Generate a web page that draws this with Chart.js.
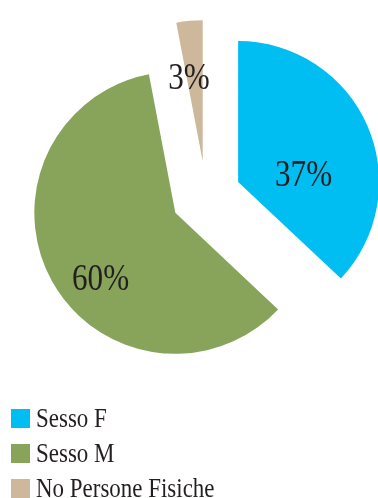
<!DOCTYPE html>
<html>
<head>
<meta charset="utf-8">
<script src="https://cdn.jsdelivr.net/npm/chart.js@4/dist/chart.umd.min.js"></script>
<style>
  body { margin: 0; background: #fff; }
  #wrap { position: relative; width: 378px; height: 498px; overflow: hidden; }
  #pie { position: absolute; left: 0; top: 0; }
  .item { position: absolute; left: 11px; width: 360px; height: 35px; }
  .box { position: absolute; left: 0; top: 0; width: 19px; height: 19px; }
  .txt {
    position: absolute; left: 25px; top: -3.6px;
    font: 27px "Liberation Serif", "Times New Roman", serif; line-height: 1;
    color: #231f20; white-space: nowrap;
    transform: scaleX(0.85); transform-origin: left;
  }
</style>
</head>
<body>
<div id="wrap">
  <canvas id="pie" width="378" height="498"></canvas>
  <div id="legend"></div>
</div>
<script>
const categories = ['Sesso F', 'Sesso M', 'No Persone Fisiche'];
const shares = [37, 60, 3];

const colors = ['#00BEF2', '#88A45A', '#CDB89B'];

// where each % label sits: angle shift from the slice middle (deg) and distance as a share of the radius
const labelSpots = [
  { turn: 10.5, dist: 0.71 },
  { turn: -8.9, dist: 0.945 },
  { turn: -2.7, dist: 0.855 }
];

// every slice pulled out from the centre by the same distance
const explode = {
  id: 'explode',
  beforeDatasetDraw(chart, args, opts) {
    const ctx = chart.ctx;
    args.meta.data.forEach(arc => {
      const mid = (arc.startAngle + arc.endAngle) / 2;
      ctx.save();
      ctx.translate(Math.cos(mid) * opts.distance, Math.sin(mid) * opts.distance);
      arc.draw(ctx);
      ctx.restore();
    });
    return false;
  }
};

const sliceLabels = {
  id: 'sliceLabels',
  afterDatasetsDraw(chart) {
    const ctx = chart.ctx;
    const size = 38;
    chart.getDatasetMeta(0).data.forEach((arc, i) => {
      const spot = labelSpots[i];
      const a = (arc.startAngle + arc.endAngle) / 2 + spot.turn * Math.PI / 180;
      const d = arc.outerRadius * spot.dist;
      const x = arc.x + Math.cos(a) * d;
      const y = arc.y + Math.sin(a) * d;
      ctx.save();
      ctx.translate(x, y + size * 0.338);
      ctx.scale(0.82, 1);
      ctx.font = size + 'px "Liberation Serif", "Times New Roman", serif';
      ctx.fillStyle = '#231f20';
      ctx.textAlign = 'center';
      ctx.textBaseline = 'alphabetic';
      ctx.fillText(shares[i] + '%', 0, 0);
      ctx.restore();
    });
  }
};

new Chart(document.getElementById('pie'), {
  type: 'pie',
  data: {
    labels: categories,
    datasets: [{
      data: shares,
      backgroundColor: colors,
      borderWidth: 0
    }]
  },
  options: {
    responsive: false,
    animation: false,
    radius: 141,
    layout: { padding: { left: 34, right: 0, top: 0, bottom: 106 } },
    plugins: {
      legend: { display: false },
      tooltip: { enabled: false },
      explode: { distance: 35 }
    }
  },
  plugins: [explode, sliceLabels]
});

// legend below the pie
const legend = document.getElementById('legend');
categories.forEach((name, i) => {
  const item = document.createElement('div');
  item.className = 'item';
  item.style.top = (409 + i * 35) + 'px';
  item.innerHTML = '<div class="box" style="background:' + colors[i] + '"></div><span class="txt">' + name + '</span>';
  legend.appendChild(item);
});
</script>
</body>
</html>
